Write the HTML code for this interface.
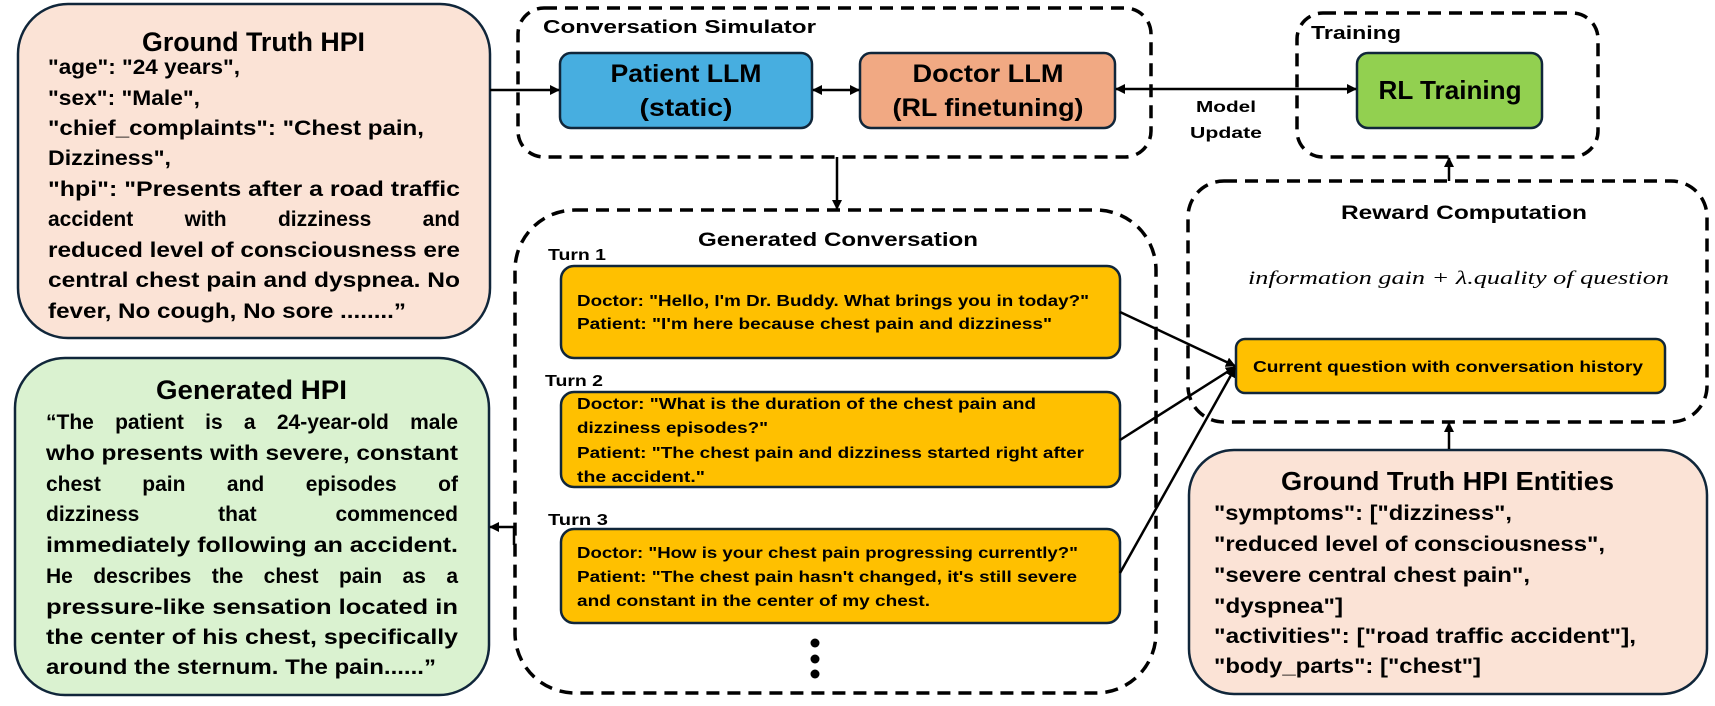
<!DOCTYPE html>
<html><head><meta charset="utf-8"><style>
html,body{margin:0;padding:0;background:#fff;}
svg{display:block;}
text{font-family:"Liberation Sans",sans-serif;font-weight:bold;fill:#000;}
</style></head><body>
<svg width="1715" height="706" viewBox="0 0 1715 706" xmlns="http://www.w3.org/2000/svg">
<defs>
<marker id="ah" markerWidth="10" markerHeight="10" refX="9" refY="5" orient="auto" markerUnits="userSpaceOnUse">
<path d="M0,0 L10,5 L0,10 z" fill="#000"/>
</marker>
<marker id="as" markerWidth="10" markerHeight="10" refX="1" refY="5" orient="auto" markerUnits="userSpaceOnUse">
<path d="M10,0 L0,5 L10,10 z" fill="#000"/>
</marker>
</defs>

<g fill="none" stroke="#000" stroke-width="3.5" stroke-dasharray="13 8">
<rect x="518" y="8" width="633" height="149" rx="26"/>
<rect x="1297" y="13" width="301" height="144" rx="26"/>
<rect x="1188" y="181" width="519" height="241" rx="36"/>
<rect x="515" y="210" width="641" height="483" rx="60"/>
</g>

<rect x="18" y="4" width="472" height="334" rx="50" fill="#fbe3d6" stroke="#10263a" stroke-width="2.5"/>
<text x="142" y="51" font-size="27" textLength="223" lengthAdjust="spacingAndGlyphs">Ground Truth HPI</text>
<g font-size="21">
<text x="48" y="74" textLength="192" lengthAdjust="spacingAndGlyphs">"age": "24 years",</text>
<text x="48" y="105" textLength="152" lengthAdjust="spacingAndGlyphs">"sex": "Male",</text>
<text x="48" y="135" textLength="376" lengthAdjust="spacingAndGlyphs">"chief_complaints": "Chest pain,</text>
<text x="48" y="165" textLength="123" lengthAdjust="spacingAndGlyphs">Dizziness",</text>
<text x="48" y="196" textLength="412" lengthAdjust="spacingAndGlyphs">"hpi": "Presents after a road traffic</text>
<text class="j" x="48" y="226" textLength="412" lengthAdjust="spacing">accident with dizziness and</text>
<text x="48" y="257" textLength="412" lengthAdjust="spacingAndGlyphs">reduced level of consciousness ere</text>
<text x="48" y="287" textLength="412" lengthAdjust="spacingAndGlyphs">central chest pain and dyspnea. No</text>
<text x="48" y="318" textLength="358" lengthAdjust="spacingAndGlyphs">fever, No cough, No sore ........”</text>
</g>

<rect x="15" y="358" width="474" height="337" rx="50" fill="#daf2d0" stroke="#10263a" stroke-width="2.5"/>
<text x="156" y="399" font-size="27" textLength="191" lengthAdjust="spacingAndGlyphs">Generated HPI</text>
<g font-size="21">
<text class="j" x="46" y="429" textLength="412" lengthAdjust="spacing">“The patient is a 24-year-old male</text>
<text x="46" y="460" textLength="412" lengthAdjust="spacingAndGlyphs">who presents with severe, constant</text>
<text class="j" x="46" y="491" textLength="412" lengthAdjust="spacing">chest pain and episodes of</text>
<text class="j" x="46" y="521" textLength="412" lengthAdjust="spacing">dizziness that commenced</text>
<text x="46" y="552" textLength="412" lengthAdjust="spacingAndGlyphs">immediately following an accident.</text>
<text class="j" x="46" y="583" textLength="412" lengthAdjust="spacing">He describes the chest pain as a</text>
<text x="46" y="614" textLength="412" lengthAdjust="spacingAndGlyphs">pressure-like sensation located in</text>
<text x="46" y="644" textLength="412" lengthAdjust="spacingAndGlyphs">the center of his chest, specifically</text>
<text x="46" y="674" textLength="390" lengthAdjust="spacingAndGlyphs">around the sternum. The pain......”</text>
</g>

<text x="543" y="33" font-size="18" textLength="273" lengthAdjust="spacingAndGlyphs">Conversation Simulator</text>
<rect x="560" y="53" width="252" height="75" rx="11" fill="#47aee0" stroke="#10263a" stroke-width="2.5"/>
<text x="686" y="82" font-size="25" text-anchor="middle" textLength="151" lengthAdjust="spacingAndGlyphs">Patient LLM</text>
<text x="686" y="116" font-size="25" text-anchor="middle" textLength="93" lengthAdjust="spacingAndGlyphs">(static)</text>
<rect x="860" y="53" width="255" height="75" rx="11" fill="#f1a983" stroke="#10263a" stroke-width="2.5"/>
<text x="988" y="82" font-size="25" text-anchor="middle" textLength="151" lengthAdjust="spacingAndGlyphs">Doctor LLM</text>
<text x="988" y="116" font-size="25" text-anchor="middle" textLength="191" lengthAdjust="spacingAndGlyphs">(RL finetuning)</text>

<text x="1311" y="39" font-size="18" textLength="90" lengthAdjust="spacingAndGlyphs">Training</text>
<rect x="1357" y="53" width="185" height="75" rx="11" fill="#92d050" stroke="#10263a" stroke-width="2.5"/>
<text x="1450" y="99" font-size="26" text-anchor="middle" textLength="143" lengthAdjust="spacingAndGlyphs">RL Training</text>
<text x="1226" y="112" font-size="16" text-anchor="middle" textLength="60" lengthAdjust="spacingAndGlyphs">Model</text>
<text x="1226" y="138" font-size="16" text-anchor="middle" textLength="72" lengthAdjust="spacingAndGlyphs">Update</text>

<text x="1341" y="219" font-size="19" textLength="246" lengthAdjust="spacingAndGlyphs">Reward Computation</text>
<text x="1248" y="284" font-size="19" font-style="italic" style="font-family:'Liberation Serif',serif;font-weight:normal" textLength="421" lengthAdjust="spacingAndGlyphs">information gain + λ.quality of question</text>
<rect x="1236" y="339" width="429" height="54" rx="9" fill="#ffc000" stroke="#10263a" stroke-width="2.5"/>
<text x="1253" y="372" font-size="16" textLength="390" lengthAdjust="spacingAndGlyphs">Current question with conversation history</text>

<rect x="1189" y="450" width="518" height="244" rx="45" fill="#fbe3d6" stroke="#10263a" stroke-width="2.5"/>
<text x="1281" y="490" font-size="26" textLength="333" lengthAdjust="spacingAndGlyphs">Ground Truth HPI Entities</text>
<g font-size="21">
<text x="1214" y="520" textLength="298" lengthAdjust="spacingAndGlyphs">"symptoms": ["dizziness",</text>
<text x="1214" y="551" textLength="391" lengthAdjust="spacingAndGlyphs">"reduced level of consciousness",</text>
<text x="1214" y="582" textLength="316" lengthAdjust="spacingAndGlyphs">"severe central chest pain",</text>
<text x="1214" y="613" textLength="129" lengthAdjust="spacingAndGlyphs">"dyspnea"]</text>
<text x="1214" y="643" textLength="422" lengthAdjust="spacingAndGlyphs">"activities": ["road traffic accident"],</text>
<text x="1214" y="673" textLength="267" lengthAdjust="spacingAndGlyphs">"body_parts": ["chest"]</text>
</g>

<text x="698" y="246" font-size="19" textLength="280" lengthAdjust="spacingAndGlyphs">Generated Conversation</text>
<g font-size="16">
<text x="548" y="260" textLength="58" lengthAdjust="spacingAndGlyphs">Turn 1</text>
<text x="545" y="386" textLength="58" lengthAdjust="spacingAndGlyphs">Turn 2</text>
<text x="548" y="525" textLength="60" lengthAdjust="spacingAndGlyphs">Turn 3</text>
</g>
<rect x="561" y="266" width="559" height="92" rx="13" fill="#ffc000" stroke="#10263a" stroke-width="2.5"/>
<rect x="561" y="392" width="559" height="95" rx="13" fill="#ffc000" stroke="#10263a" stroke-width="2.5"/>
<rect x="561" y="529" width="559" height="94" rx="13" fill="#ffc000" stroke="#10263a" stroke-width="2.5"/>
<g font-size="16">
<text x="577" y="306" textLength="512" lengthAdjust="spacingAndGlyphs">Doctor: "Hello, I'm Dr. Buddy. What brings you in today?"</text>
<text x="577" y="329" textLength="475" lengthAdjust="spacingAndGlyphs">Patient: "I'm here because chest pain and dizziness"</text>
<text x="577" y="409" textLength="459" lengthAdjust="spacingAndGlyphs">Doctor: "What is the duration of the chest pain and</text>
<text x="577" y="433" textLength="191" lengthAdjust="spacingAndGlyphs">dizziness episodes?"</text>
<text x="577" y="458" textLength="507" lengthAdjust="spacingAndGlyphs">Patient: "The chest pain and dizziness started right after</text>
<text x="577" y="482" textLength="128" lengthAdjust="spacingAndGlyphs">the accident."</text>
<text x="577" y="558" textLength="501" lengthAdjust="spacingAndGlyphs">Doctor: "How is your chest pain progressing currently?"</text>
<text x="577" y="582" textLength="500" lengthAdjust="spacingAndGlyphs">Patient: "The chest pain hasn't changed, it's still severe</text>
<text x="577" y="606" textLength="353" lengthAdjust="spacingAndGlyphs">and constant in the center of my chest.</text>
</g>
<circle cx="815" cy="643" r="4.5" fill="#000"/>
<circle cx="815" cy="659" r="4.5" fill="#000"/>
<circle cx="815" cy="674" r="4.5" fill="#000"/>

<g stroke="#000" stroke-width="2.5" fill="none">
<line x1="490" y1="90" x2="559" y2="90" marker-end="url(#ah)"/>
<line x1="813" y1="90" x2="859" y2="90" marker-end="url(#ah)" marker-start="url(#as)"/>
<line x1="1116" y1="89" x2="1356" y2="89" marker-end="url(#ah)" marker-start="url(#as)"/>
<line x1="837" y1="157" x2="837" y2="209" marker-end="url(#ah)"/>
<line x1="1449" y1="181" x2="1449" y2="158" marker-end="url(#ah)"/>
<line x1="1449" y1="449" x2="1449" y2="423" marker-end="url(#ah)"/>
<polyline points="514,545 514,527 490,527" marker-end="url(#ah)"/>
<line x1="1120" y1="312" x2="1235" y2="366" marker-end="url(#ah)"/>
<line x1="1120" y1="440" x2="1235" y2="367" marker-end="url(#ah)"/>
<line x1="1120" y1="573" x2="1235" y2="368" marker-end="url(#ah)"/>
</g>
</svg>
<script>
try{
document.querySelectorAll('text.j').forEach(function(el){
  var target=parseFloat(el.getAttribute('textLength'));
  el.removeAttribute('textLength');el.removeAttribute('lengthAdjust');
  var w=el.getComputedTextLength();
  var n=(el.textContent.match(/ /g)||[]).length;
  if(n>0&&w<target){el.setAttribute('word-spacing',((target-w)/n).toFixed(2));}
  else{el.setAttribute('textLength',target);el.setAttribute('lengthAdjust','spacingAndGlyphs');}
});
}catch(e){}
</script>
</body></html>
